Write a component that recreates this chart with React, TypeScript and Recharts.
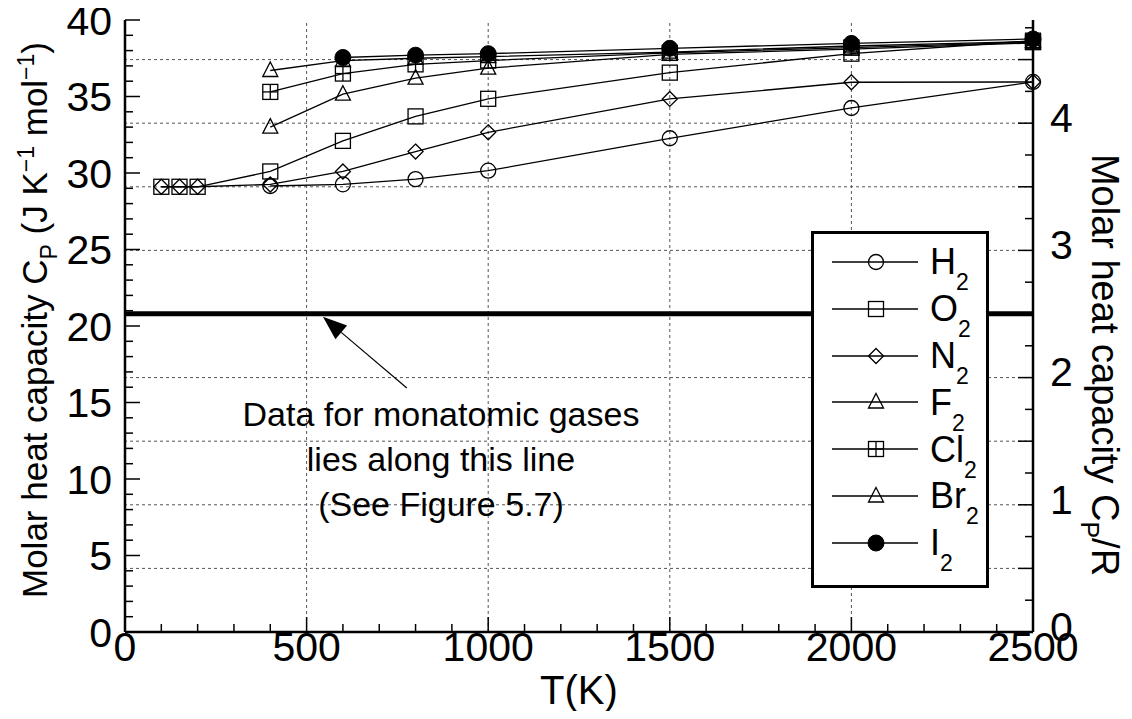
import React from "react";
import {
  LineChart,
  Line,
  XAxis,
  YAxis,
  ReferenceLine,
  ReferenceDot,
  Legend,
} from "recharts";

// temperatures (K) and Cp values (J K^-1 mol^-1)
const temps = [100, 150, 200, 400, 600, 800, 1000, 1500, 2000, 2500];
const h2 = [null, null, null, 29.15, 29.26, 29.6, 30.15, 32.27, 34.25, 35.95];
const o2 = [29.1, 29.1, 29.1, 30.1, 32.1, 33.7, 34.85, 36.56, 37.8, 38.65];
const n2 = [29.1, 29.1, 29.1, 29.25, 30.1, 31.4, 32.66, 34.84, 35.93, 35.95];
const f2 = [null, null, null, 33.0, 35.15, 36.2, 36.85, 37.75, 38.1, 38.5];
const cl2 = [null, null, null, 35.3, 36.5, 37.1, 37.35, 37.85, 38.2, 38.55];
const br2 = [null, null, null, 36.7, 37.35, 37.5, 37.6, 37.9, 38.3, 38.6];
const i2 = [null, null, null, null, 37.55, 37.7, 37.8, 38.15, 38.47, 38.76];

const gases = ["H2", "O2", "N2", "F2", "Cl2", "Br2", "I2"];
const gasValues = [h2, o2, n2, f2, cl2, br2, i2];
const markerKinds = ["circle", "square", "diamond", "triangle", "crossSquare", "triangle", "dot"];

const xTicks = Array.from({ length: 26 }, (_, i) => i * 100);
const yTicks = Array.from({ length: 41 }, (_, i) => i);
const rTicks = Array.from({ length: 20 }, (_, i) => i * 0.25);
const gridT = [500, 1000, 1500, 2000];
const gridRatio = [0.5, 1, 1.5, 2, 2.5, 3, 3.5, 4, 4.5];
const gasR = 8.314;
const monatomicCp = 20.8;
const arrowTail = { x: 776, y: 15.95 };
const arrowTip = { x: 545, y: 20.6 };
const noteAt = { x: 870, y: 14.25 };
const noteLines = ["Data for monatomic gases", "lies along this line", "(See Figure 5.7)"];

const rows = temps.map((t, i) => {
  const row: any = { T: t };
  gases.forEach((g, k) => {
    row[g] = gasValues[k][i];
  });
  return row;
});

const FONT = "'Liberation Sans', Arial, Helvetica, sans-serif";
const TICK_FS = 41;

function Marker({ kind, cx, cy }: { kind: string; cx: number; cy: number }) {
  const s = 7.5;
  const common = { fill: "none", stroke: "#000", strokeWidth: 1.3 };
  switch (kind) {
    case "circle":
      return <circle cx={cx} cy={cy} r={s} {...common} />;
    case "square":
      return <rect x={cx - s} y={cy - s} width={2 * s} height={2 * s} {...common} />;
    case "diamond":
      return (
        <polygon
          points={`${cx},${cy - s} ${cx + s},${cy} ${cx},${cy + s} ${cx - s},${cy}`}
          {...common}
        />
      );
    case "triangle":
      return (
        <polygon
          points={`${cx},${cy - 8.5} ${cx + 7.5},${cy + 6} ${cx - 7.5},${cy + 6}`}
          {...common}
        />
      );
    case "crossSquare":
      return (
        <g {...common}>
          <rect x={cx - s} y={cy - s} width={2 * s} height={2 * s} />
          <line x1={cx} y1={cy - s} x2={cx} y2={cy + s} />
          <line x1={cx - s} y1={cy} x2={cx + s} y2={cy} />
        </g>
      );
    default:
      return <circle cx={cx} cy={cy} r={8} fill="#000" stroke="#000" />;
  }
}

function BottomTick(props: any) {
  const { x, y, payload } = props;
  const major = payload.value % 500 === 0;
  return (
    <g>
      <line x1={x} y1={y} x2={x} y2={y - (major ? 15 : 8)} stroke="#000" strokeWidth={1.5} />
      {major && (
        <text x={x} y={y - 1} dy="0.72em" textAnchor="middle" fontSize={TICK_FS} fill="#000">
          {payload.value}
        </text>
      )}
    </g>
  );
}

function TopTick(props: any) {
  const { x, y, payload } = props;
  const major = payload.value % 500 === 0;
  return <line x1={x} y1={y} x2={x} y2={y + (major ? 15 : 8)} stroke="#000" strokeWidth={1.5} />;
}

function LeftTick(props: any) {
  const { x, y, payload } = props;
  const major = payload.value % 5 === 0;
  return (
    <g>
      <line x1={x} y1={y} x2={x + (major ? 15 : 8)} y2={y} stroke="#000" strokeWidth={1.5} />
      {major && (
        <text x={x - 13} y={y} dy="0.36em" textAnchor="end" fontSize={TICK_FS} fill="#000">
          {payload.value}
        </text>
      )}
    </g>
  );
}

function RightTick(props: any) {
  const { x, y, payload } = props;
  const major = payload.value % 0.5 === 0;
  const labelled = payload.value % 1 === 0;
  return (
    <g>
      <line x1={x} y1={y} x2={x - (major ? 15 : 8)} y2={y} stroke="#000" strokeWidth={1.5} />
      {labelled && (
        <text x={x + 17} y={y - 6} dy="0.36em" textAnchor="start" fontSize={TICK_FS} fill="#000">
          {payload.value}
        </text>
      )}
    </g>
  );
}

function XTitle({ viewBox }: any) {
  return (
    <text
      x={viewBox.x + viewBox.width / 2}
      y={viewBox.y + 72}
      textAnchor="middle"
      fontSize={40}
      fill="#000"
    >
      T(K)
    </text>
  );
}

function LeftTitle({ viewBox }: any) {
  const cx = viewBox.x + 47;
  const cy = viewBox.y + viewBox.height / 2 - 6;
  return (
    <text
      transform={`rotate(-90, ${cx}, ${cy})`}
      x={cx}
      y={cy}
      textAnchor="middle"
      fontSize={35}
      fill="#000"
    >
      Molar heat capacity C
      <tspan dy={10} fontSize={23}>P</tspan>
      <tspan dy={-10}> (J K</tspan>
      <tspan dy={-13} fontSize={23}>−1</tspan>
      <tspan dy={13}> mol</tspan>
      <tspan dy={-13} fontSize={23}>−1</tspan>
      <tspan dy={13}>)</tspan>
    </text>
  );
}

function RightTitle({ viewBox }: any) {
  const cx = viewBox.x + 59;
  const cy = viewBox.y + viewBox.height / 2 + 39;
  return (
    <text
      transform={`rotate(90, ${cx}, ${cy})`}
      x={cx}
      y={cy}
      textAnchor="middle"
      fontSize={38}
      fill="#000"
    >
      Molar heat capacity C
      <tspan dy={11} fontSize={25}>P</tspan>
      <tspan dy={-11}>/R</tspan>
    </text>
  );
}

function Arrow(props: any) {
  const { x1, y1, x2, y2 } = props;
  const dx = x2 - x1;
  const dy = y2 - y1;
  const len = Math.hypot(dx, dy) || 1;
  const ux = dx / len;
  const uy = dy / len;
  const head = 24;
  const half = 9;
  const bx = x2 - ux * head;
  const by = y2 - uy * head;
  return (
    <g>
      <line x1={x1} y1={y1} x2={bx} y2={by} stroke="#000" strokeWidth={1.2} />
      <polygon
        points={`${x2},${y2} ${bx - uy * half},${by + ux * half} ${bx + uy * half},${by - ux * half}`}
        fill="#000"
      />
    </g>
  );
}

function Note(props: any) {
  const { cx, cy } = props;
  return (
    <text x={cx} y={cy} textAnchor="middle" fontSize={34} fill="#000">
      {noteLines.map((t, i) => (
        <tspan key={t} x={cx} y={cy + 12 + i * 45}>
          {t}
        </tspan>
      ))}
    </text>
  );
}

function GasLabel({ name }: { name: string }) {
  const base = name.slice(0, -1);
  const sub = name.slice(-1);
  return (
    <span style={{ fontSize: 36, lineHeight: "36px", whiteSpace: "nowrap" }}>
      {base}
      <span style={{ fontSize: 23, position: "relative", top: 16 }}>{sub}</span>
    </span>
  );
}

function LegendBox({ payload }: any) {
  const seen = new Set();
  const items = [...(payload || [])]
    .filter((a: any) => {
      if (a.type === "none" || gases.indexOf(a.dataKey) < 0 || seen.has(a.dataKey)) return false;
      seen.add(a.dataKey);
      return true;
    })
    .sort((a: any, b: any) => gases.indexOf(a.dataKey) - gases.indexOf(b.dataKey));
  return (
    <div
      style={{
        position: "relative",
        width: 178,
        height: 357,
        boxSizing: "border-box",
        border: "3px solid #000",
        background: "#fff",
        fontFamily: FONT,
      }}
    >
      {items.map((it: any, i: number) => {
        const k = gases.indexOf(it.dataKey);
        const c = 28 + i * 46.8;
        return (
          <div key={it.dataKey}>
            <svg
              width={100}
              height={24}
              style={{ position: "absolute", left: 10, top: c - 12, overflow: "visible" }}
            >
              <line x1={8} y1={12} x2={94} y2={12} stroke="#000" strokeWidth={1.3} />
              <Marker kind={markerKinds[k]} cx={52} cy={12} />
            </svg>
            <div style={{ position: "absolute", left: 116, top: c - 17.6 }}>
              <GasLabel name={gases[k]} />
            </div>
          </div>
        );
      })}
    </div>
  );
}

export default function App() {
  return (
    <div style={{ width: 1132, height: 719, margin: -8, fontFamily: FONT, background: "#fff" }}>
      <LineChart
        width={1132}
        height={719}
        data={rows}
        margin={{ top: 20, right: 0, bottom: 0, left: 0 }}
      >
        <XAxis
          dataKey="T"
          type="number"
          domain={[0, 2500]}
          ticks={xTicks}
          interval={0}
          height={87}
          tickSize={0}
          tickMargin={0}
          tickLine={false}
          tick={<BottomTick />}
          axisLine={{ stroke: "#000", strokeWidth: 2.5 }}
          label={<XTitle />}
        />
        <XAxis
          xAxisId="top"
          dataKey="T"
          orientation="top"
          type="number"
          domain={[0, 2500]}
          allowDataOverflow
          ticks={xTicks}
          interval={0}
          height={0}
          tickSize={0}
          tickMargin={0}
          tickLine={false}
          tick={<TopTick />}
          axisLine={{ stroke: "#000", strokeWidth: 2.5 }}
        />
        <YAxis
          yAxisId="left"
          type="number"
          domain={[0, 40]}
          ticks={yTicks}
          interval={0}
          width={125}
          tickSize={0}
          tickMargin={0}
          tickLine={false}
          tick={<LeftTick />}
          axisLine={{ stroke: "#000", strokeWidth: 2.5 }}
          label={<LeftTitle />}
        />
        <YAxis
          yAxisId="right"
          orientation="right"
          type="number"
          domain={[0, 40 / gasR]}
          allowDataOverflow
          ticks={rTicks}
          interval={0}
          width={99}
          tickSize={0}
          tickMargin={0}
          tickLine={false}
          tick={<RightTick />}
          axisLine={{ stroke: "#000", strokeWidth: 2.5 }}
          label={<RightTitle />}
        />

        {gridT.map((t) => (
          <ReferenceLine
            key={`gx${t}`}
            x={t}
            yAxisId="left"
            stroke="#555"
            strokeWidth={1}
            strokeDasharray="3 3"
          />
        ))}
        {gridRatio.map((v) => (
          <ReferenceLine
            key={`gy${v}`}
            y={v}
            yAxisId="right"
            stroke="#555"
            strokeWidth={1}
            strokeDasharray="3 3"
          />
        ))}
        <ReferenceLine y={monatomicCp} yAxisId="left" stroke="#000" strokeWidth={5} />
        <ReferenceLine
          yAxisId="left"
          segment={[arrowTail, arrowTip]}
          shape={<Arrow />}
        />
        <ReferenceDot
          yAxisId="left"
          x={noteAt.x}
          y={noteAt.y}
          r={0}
          shape={<Note />}
        />

        {gases.map((g, k) => (
          <Line
            key={g}
            yAxisId="left"
            dataKey={g}
            name={g}
            stroke="#000"
            strokeWidth={1.3}
            isAnimationActive={false}
            dot={(p: any) =>
              p.cy == null || p.value == null ? (
                <g key={`${g}-${p.index}`} />
              ) : (
                <Marker key={`${g}-${p.index}`} kind={markerKinds[k]} cx={p.cx} cy={p.cy} />
              )
            }
            activeDot={false}
          />
        ))}

        {/* invisible helper so the top / right (Cp/R) axes get a scale */}
        <Line
          xAxisId="top"
          yAxisId="right"
          dataKey="O2"
          name="helper"
          stroke="none"
          dot={false}
          activeDot={false}
          legendType="none"
          isAnimationActive={false}
        />

        <Legend
          layout="horizontal"
          verticalAlign="middle"
          align="center"
          content={<LegendBox />}
          wrapperStyle={{ left: 811, top: 231, width: 178, height: 357 }}
        />
      </LineChart>
    </div>
  );
}
